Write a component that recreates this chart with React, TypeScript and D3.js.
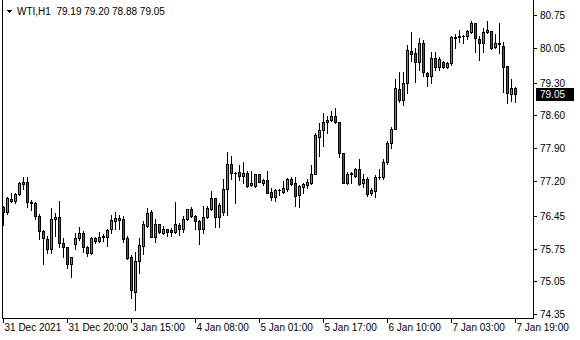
import React from 'react';
import * as d3 from 'd3';

const symbol = 'WTI,H1';
const opens = [
  76.64, 76.53, 76.77, 76.77, 76.92, 77.13, 77.17, 76.74, 76.72, 76.45,
  76.13, 75.96, 75.74, 76.38, 76.42, 75.88, 75.79, 75.43, 75.84, 75.98,
  76.08, 75.79, 75.65, 75.97, 75.92, 76.03, 75.99, 76.16, 76.33, 76.37,
  76.38, 75.97, 75.57, 74.83, 75.48, 75.80, 76.23, 76.53, 76.00, 76.27,
  76.09, 76.16, 76.15, 76.11, 76.25, 76.16, 76.38, 76.60, 76.44, 76.33,
  76.18, 76.42, 76.59, 76.83, 76.43, 76.54, 77.03, 77.56, 77.36, 77.38,
  77.31, 77.36, 77.11, 77.10, 77.34, 77.16, 77.22, 76.96, 76.86, 77.00,
  76.97, 77.02, 77.24, 77.15, 76.90, 77.06, 77.11, 77.15, 77.35, 78.14,
  78.29, 78.45, 78.50, 78.59, 78.45, 77.79, 77.15, 77.34, 77.31, 77.45,
  77.16, 77.25, 76.93, 76.98, 77.28, 77.29, 77.60, 78.02, 78.30, 79.17,
  78.93, 79.30, 79.98, 79.93, 79.75, 80.16, 79.50, 79.44, 79.84, 79.63,
  79.75, 79.64, 79.72, 80.25, 80.28, 80.29, 80.29, 80.38, 80.57, 80.24,
  80.14, 80.38, 80.41, 80.06, 80.12, 80.09, 79.66, 79.05, 79.19,
];
const highs = [
  76.66, 76.85, 76.95, 76.95, 77.18, 77.28, 77.28, 76.80, 76.75, 76.48,
  76.15, 76.02, 76.61, 76.52, 76.77, 75.97, 75.79, 75.58, 76.08, 76.22,
  76.13, 75.81, 76.00, 76.00, 76.10, 76.06, 76.16, 76.46, 76.53, 76.46,
  76.44, 76.03, 75.61, 75.67, 75.98, 76.34, 76.61, 76.57, 76.38, 76.27,
  76.23, 76.18, 76.20, 76.75, 76.29, 76.45, 76.59, 76.63, 76.46, 76.36,
  76.66, 76.66, 76.99, 76.84, 76.72, 77.25, 77.81, 77.73, 77.40, 77.54,
  77.60, 77.42, 77.42, 77.35, 77.34, 77.25, 77.41, 77.04, 77.02, 77.02,
  77.20, 77.27, 77.28, 77.28, 77.11, 77.16, 77.23, 77.54, 78.22, 78.44,
  78.65, 78.59, 78.70, 78.75, 78.47, 77.79, 77.40, 77.40, 77.47, 77.66,
  77.35, 77.29, 77.04, 77.33, 77.45, 77.66, 78.06, 78.35, 79.39, 79.54,
  79.52, 80.11, 80.39, 80.04, 80.25, 80.22, 79.54, 79.95, 79.95, 79.86,
  79.77, 79.75, 80.29, 80.34, 80.43, 80.32, 80.43, 80.62, 80.57, 80.29,
  80.47, 80.62, 80.41, 80.34, 80.57, 80.18, 79.66, 79.39, 79.20,
];
const lows = [
  76.25, 76.49, 76.75, 76.72, 76.90, 77.03, 76.63, 76.58, 76.38, 75.95,
  75.43, 75.65, 75.66, 76.03, 75.78, 75.56, 75.33, 75.15, 75.74, 75.93,
  75.68, 75.60, 75.64, 75.88, 75.90, 75.92, 75.80, 76.09, 76.16, 76.16,
  75.90, 75.53, 74.70, 74.44, 75.22, 75.63, 76.21, 75.99, 75.90, 76.09,
  76.07, 76.03, 76.03, 76.08, 76.04, 76.11, 76.36, 76.42, 76.16, 75.84,
  76.09, 76.40, 76.58, 76.22, 76.22, 76.47, 76.47, 77.24, 76.72, 77.22,
  77.15, 77.07, 77.10, 77.07, 77.17, 77.11, 76.93, 76.80, 76.77, 76.90,
  76.95, 76.99, 77.11, 76.66, 76.65, 76.93, 77.04, 77.13, 77.35, 77.73,
  77.95, 78.23, 78.49, 78.44, 77.70, 77.16, 77.13, 77.15, 77.29, 77.11,
  77.07, 76.87, 76.90, 76.86, 77.23, 77.25, 77.56, 77.90, 78.30, 78.89,
  78.82, 79.07, 79.77, 79.32, 79.57, 79.44, 79.22, 79.29, 79.57, 79.57,
  79.62, 79.62, 79.69, 80.04, 80.17, 80.14, 80.24, 80.36, 79.95, 79.79,
  79.95, 80.36, 80.02, 80.04, 79.93, 79.11, 78.86, 78.91, 78.88,
];
const closes = [
  76.53, 76.83, 76.81, 76.91, 77.15, 77.17, 76.74, 76.72, 76.45, 76.13,
  75.97, 75.74, 76.38, 76.42, 75.88, 75.78, 75.43, 75.58, 75.97, 76.08,
  75.79, 75.65, 75.97, 75.92, 76.00, 75.99, 76.15, 76.36, 76.40, 76.40,
  75.96, 75.55, 74.86, 75.48, 75.82, 76.27, 76.51, 76.00, 76.27, 76.11,
  76.16, 76.11, 76.11, 76.27, 76.18, 76.38, 76.59, 76.44, 76.33, 76.16,
  76.43, 76.62, 76.83, 76.43, 76.68, 77.03, 77.56, 77.37, 77.36, 77.31,
  77.36, 77.10, 77.15, 77.35, 77.18, 77.22, 76.95, 76.86, 77.00, 77.00,
  77.04, 77.24, 77.13, 76.87, 77.09, 77.13, 77.18, 77.35, 78.18, 78.29,
  78.45, 78.50, 78.59, 78.45, 77.79, 77.16, 77.35, 77.36, 77.45, 77.13,
  77.25, 76.91, 77.00, 77.28, 77.29, 77.60, 78.00, 78.31, 79.18, 78.92,
  79.29, 80.01, 79.91, 79.75, 80.16, 79.52, 79.45, 79.84, 79.63, 79.80,
  79.64, 79.72, 80.27, 80.27, 80.31, 80.31, 80.41, 80.57, 80.25, 80.14,
  80.38, 80.43, 80.04, 80.14, 80.14, 79.64, 79.07, 79.18, 79.05,
];
const timeLabels = [
  '31 Dec 2021', '31 Dec 20:00', '3 Jan 15:00', '4 Jan 08:00', '5 Jan 01:00',
  '5 Jan 17:00', '6 Jan 10:00', '7 Jan 03:00', '7 Jan 19:00',
];
const timeLabelBars = [0, 16, 32, 48, 64, 80, 96, 112, 128];
const priceTicks = [80.75, 80.05, 79.3, 78.6, 77.9, 77.2, 76.45, 75.75, 75.05, 74.35];

const BULL = '#3cb43c';
const BEAR = '#e01818';
const FONT = '"Liberation Sans", Arial, sans-serif';

export default function App() {
  const n = opens.length;
  const x = d3.scaleLinear().domain([0, n - 1]).range([3.5, 515.5]);
  const y = d3.scaleLinear().domain([74.35, 80.75]).range([314, 15]);
  const Y = (v: number) => Math.round(y(v));

  const last = n - 1;
  const header = `${symbol}  ${opens[last].toFixed(2)} ${highs[last].toFixed(2)} ${lows[last].toFixed(2)} ${closes[last].toFixed(2)}`;
  const lastY = Y(closes[last]);

  const candles = opens.map((o, i) => {
    const c = closes[i];
    const h = Math.max(highs[i], o, c);
    const l = Math.min(lows[i], o, c);
    const cx = x(i);
    const top = Y(Math.max(o, c));
    const bot = Y(Math.min(o, c));
    const yh = Y(h);
    const yl = Y(l);
    const fill = c > o ? BULL : BEAR;
    return (
      <g key={i}>
        <line x1={cx} x2={cx} y1={yh} y2={yl + 1} stroke="#000" strokeWidth={1} />
        {bot - top < 1 ? (
          <line x1={cx - 1.5} x2={cx + 1.5} y1={top + 0.5} y2={top + 0.5} stroke="#000" strokeWidth={1} />
        ) : (
          <rect x={cx - 1} y={top + 0.5} width={2} height={bot - top} fill={fill} stroke="#000" strokeWidth={1} />
        )}
      </g>
    );
  });

  return (
    <svg
      width={580}
      height={340}
      style={{ position: 'absolute', left: 0, top: 0, background: '#fff' }}
      shapeRendering="crispEdges"
    >
      <rect x={0} y={0} width={580} height={340} fill="#fff" />
      <line x1={2.5} x2={2.5} y1={0} y2={318.5} stroke="#000" />
      <line x1={533.5} x2={533.5} y1={0} y2={318.5} stroke="#000" />
      <line x1={2} x2={534} y1={318.5} y2={318.5} stroke="#000" />
      {candles}
      <path d="M6,10 L12,10 L9,13 Z" fill="#000" />
      <text x={17} y={15} fontFamily={FONT} fontSize={10} fill="#000" style={{ whiteSpace: 'pre' }}>
        {header}
      </text>
      {priceTicks.map((p) => (
        <g key={p}>
          <line x1={534} x2={537} y1={Y(p) + 0.5} y2={Y(p) + 0.5} stroke="#000" />
          <text x={540} y={Y(p)} dy="0.36em" fontFamily={FONT} fontSize={10} fill="#000">
            {p.toFixed(2)}
          </text>
        </g>
      ))}
      <rect x={536} y={lastY - 6} width={38} height={13} fill="#000" />
      <text x={540} y={lastY + 0.5} dy="0.36em" fontFamily={FONT} fontSize={10} fill="#fff">
        {closes[last].toFixed(2)}
      </text>
      {timeLabelBars.map((b, k) => (
        <g key={b}>
          <line x1={x(b)} x2={x(b)} y1={319} y2={323} stroke="#000" />
          <text x={x(b) + 1} y={331} fontFamily={FONT} fontSize={10} fill="#000">
            {timeLabels[k]}
          </text>
        </g>
      ))}
    </svg>
  );
}
